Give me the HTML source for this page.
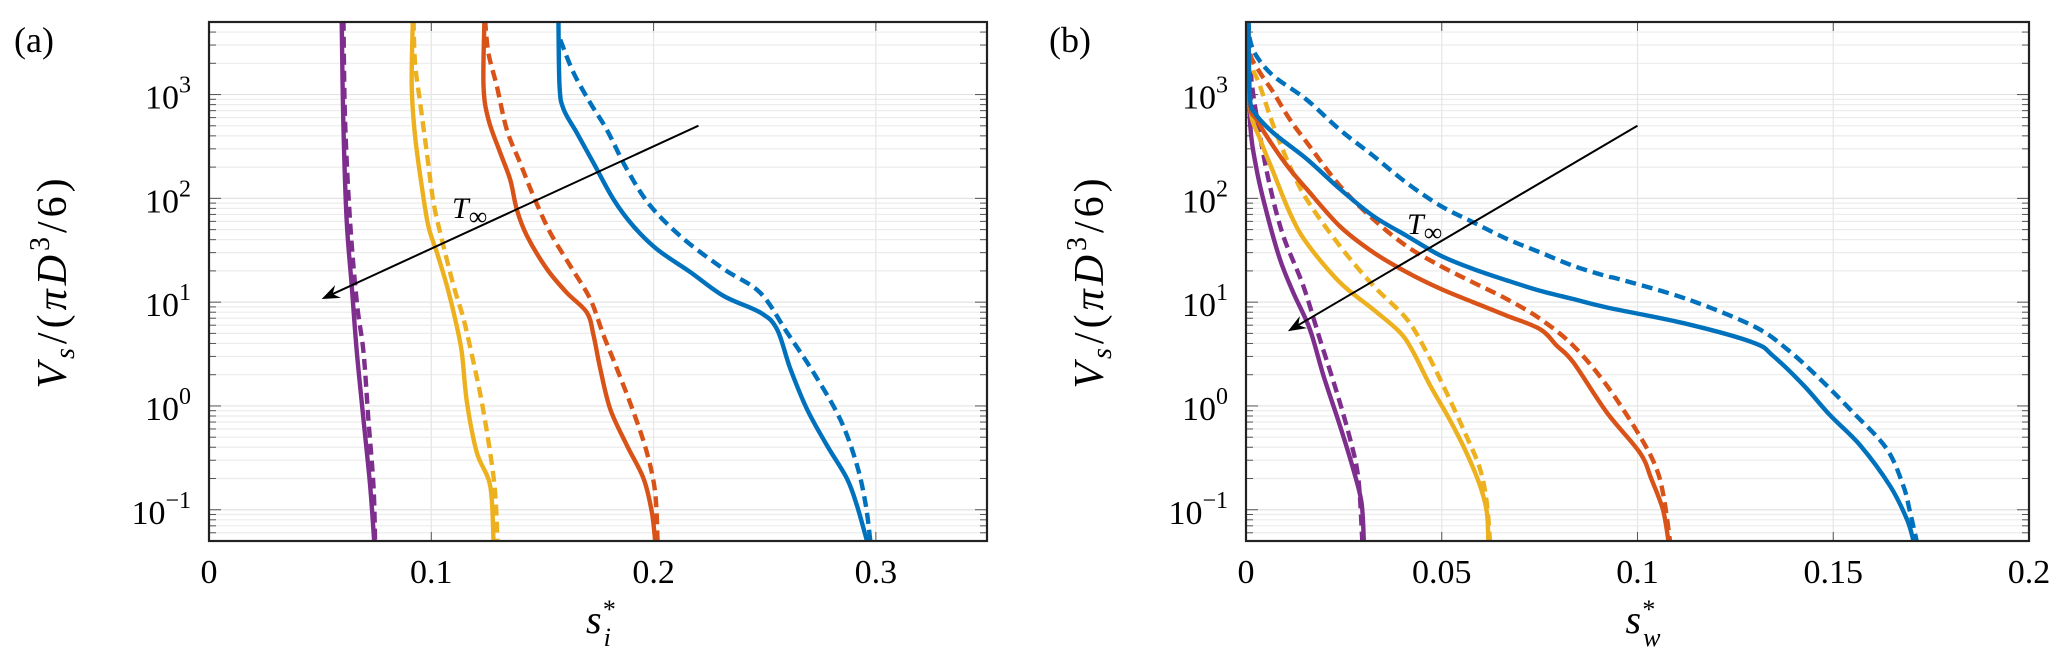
<!DOCTYPE html>
<html><head><meta charset="utf-8">
<style>
html,body{margin:0;padding:0;background:#fff;}
svg{display:block;}
text{font-family:"Liberation Serif","DejaVu Serif",serif;fill:#000;}
</style></head>
<body>
<svg id="fig" width="2067" height="668" viewBox="0 0 2067 668" xmlns="http://www.w3.org/2000/svg">
  <text x="14" y="52" font-size="36">(a)</text>
  <text x="1049" y="52" font-size="36">(b)</text>
  <g id="pa"></g>
  <g id="pb"></g>
</svg>
<script>
// ---- Panel (a) data: s_i* vs log10(Vs/(pi D^3/6)) ----
const aPurpleSolidS = [0.0597,0.0604,0.0619,0.0642,0.0665,0.0695,0.0725,0.0743];
const aPurpleSolidLogV = [3.72,2.76,1.8,1.16,0.52,-0.13,-0.77,-1.3];
const aPurpleDashS = [0.0605,0.0612,0.0634,0.0665,0.0695,0.0717,0.074,0.0747];
const aPurpleDashLogV = [3.72,2.76,1.8,1.0,0.52,-0.13,-0.77,-1.3];
const aYellowSolidS = [0.0917,0.0912,0.0927,0.0957,0.0987,0.1025,0.107,0.1107,0.1137,0.116,0.1205,0.1265,0.128];
const aYellowSolidLogV = [3.72,3.08,2.6,2.12,1.73,1.48,1.16,0.84,0.52,0.04,-0.45,-0.77,-1.3];
const aYellowDashS = [0.092,0.0927,0.095,0.098,0.101,0.1047,0.11,0.1145,0.119,0.1227,0.1265,0.1287,0.1298];
const aYellowDashLogV = [3.72,3.3,2.92,2.44,1.96,1.61,1.16,0.84,0.42,0.04,-0.45,-0.83,-1.3];
const aOrangeSolidS = [0.1239,0.1235,0.1257,0.131,0.1355,0.1385,0.143,0.152,0.161,0.17,0.173,0.176,0.1805,0.188,0.1955,0.1992,0.2007];
const aOrangeSolidLogV = [3.72,3.08,2.76,2.44,2.18,1.89,1.64,1.32,1.09,0.9,0.68,0.36,-0.03,-0.38,-0.7,-1.02,-1.3];
const aOrangeDashS = [0.1242,0.1257,0.1295,0.134,0.14,0.146,0.1535,0.1625,0.1715,0.1775,0.1835,0.191,0.197,0.2007,0.2018];
const aOrangeDashLogV = [3.72,3.4,3.08,2.66,2.34,2.02,1.67,1.35,1.03,0.68,0.36,-0.06,-0.45,-0.83,-1.3];
const aBlueSolidS = [0.1572,0.1577,0.1595,0.1655,0.173,0.182,0.191,0.2015,0.2165,0.2315,0.248,0.2555,0.2615,0.269,0.278,0.287,0.2915,0.296];
const aBlueSolidLogV = [3.72,3.08,2.86,2.63,2.34,1.99,1.73,1.51,1.29,1.06,0.9,0.74,0.36,-0.03,-0.38,-0.7,-0.96,-1.3];
const aBlueDashS = [0.158,0.164,0.1715,0.179,0.188,0.1985,0.2135,0.2315,0.248,0.26,0.272,0.284,0.2915,0.2955,0.2975];
const aBlueDashLogV = [3.53,3.21,2.92,2.66,2.28,1.93,1.61,1.32,1.09,0.71,0.32,-0.13,-0.57,-0.96,-1.3];
const aArrowS = [0.2202,0.0507];
const aArrowLogV = [2.70,1.03];
const aXTicks = [0,0.1,0.2,0.3];
const aXTickLabels = ["0","0.1","0.2","0.3"];

// ---- Panel (b) data: s_w* ----
const bPurpleSolidS = [0.0006,0.001,0.0027,0.0053,0.0087,0.0121,0.0163,0.0198,0.024,0.0274,0.0295,0.0301];
const bPurpleSolidLogV = [3.72,2.76,2.28,1.86,1.41,1.09,0.74,0.29,-0.19,-0.61,-0.93,-1.3];
const bPurpleDashS = [0.0006,0.0014,0.0036,0.0061,0.0095,0.0146,0.0189,0.0232,0.0266,0.0287,0.0297];
const bPurpleDashLogV = [3.72,3.14,2.6,2.12,1.64,1.16,0.64,0.13,-0.32,-0.7,-1.3];
const bYellowSolidS = [0.0006,0.001,0.0036,0.007,0.0112,0.0155,0.024,0.0325,0.0393,0.0427,0.047,0.052,0.0563,0.0598,0.0615,0.0619];
const bYellowSolidLogV = [3.72,2.89,2.57,2.25,1.86,1.57,1.19,0.93,0.71,0.52,0.2,-0.13,-0.45,-0.77,-1.02,-1.3];
const bYellowDashS = [0.0006,0.001,0.0036,0.007,0.0112,0.0155,0.024,0.0325,0.041,0.0461,0.0512,0.0563,0.0598,0.0615,0.0623];
const bYellowDashLogV = [3.72,3.34,3.08,2.7,2.31,1.99,1.54,1.16,0.84,0.52,0.13,-0.29,-0.61,-0.93,-1.3];
const bOrangeSolidS = [0.0006,0.001,0.0027,0.007,0.0112,0.0155,0.024,0.0325,0.041,0.0496,0.058,0.0666,0.0751,0.0794,0.0836,0.0921,0.1006,0.1035,0.1065,0.1079];
const bOrangeSolidLogV = [3.72,2.92,2.76,2.5,2.28,2.09,1.73,1.48,1.29,1.13,1.0,0.87,0.74,0.58,0.42,-0.06,-0.45,-0.7,-1.0,-1.3];
const bOrangeDashS = [0.0006,0.001,0.0036,0.007,0.0112,0.0155,0.024,0.0325,0.041,0.0496,0.058,0.0666,0.0751,0.0836,0.0921,0.1006,0.1049,0.1068,0.1083];
const bOrangeDashLogV = [3.72,3.4,3.21,3.02,2.76,2.54,2.12,1.8,1.54,1.35,1.19,1.03,0.84,0.58,0.2,-0.29,-0.61,-0.9,-1.3];
const bBlueSolidS = [0.0006,0.001,0.0023,0.007,0.0155,0.024,0.0325,0.041,0.0496,0.058,0.0666,0.0751,0.0836,0.0921,0.1126,0.1296,0.1347,0.1424,0.1492,0.1569,0.1645,0.1688,0.1705];
const bBlueSolidLogV = [3.72,2.98,2.82,2.63,2.38,2.09,1.83,1.64,1.45,1.32,1.21,1.11,1.03,0.95,0.79,0.61,0.48,0.2,-0.09,-0.38,-0.77,-1.09,-1.3];
const bBlueDashS = [0.0006,0.001,0.0027,0.007,0.0155,0.024,0.0325,0.041,0.0496,0.058,0.0666,0.0751,0.0836,0.0921,0.0955,0.1126,0.1296,0.1381,0.1466,0.155,0.1636,0.1679,0.1696,0.1713];
const bBlueDashLogV = [3.72,3.53,3.37,3.18,2.95,2.66,2.41,2.15,1.93,1.77,1.61,1.48,1.35,1.25,1.22,1.03,0.77,0.55,0.26,-0.06,-0.41,-0.77,-1.02,-1.3];
const bArrowS = [0.1,0.0107];
const bArrowLogV = [2.70,0.72];
const bXTicks = [0,0.05,0.1,0.15,0.2];
const bXTickLabels = ["0","0.05","0.1","0.15","0.2"];

const yDecades = [-1,0,1,2,3];
const yDecadeLabels = ["\u22121","0","1","2","3"];
const yMin = Math.log10(0.05), yMax = Math.log10(5000);

const NS = "http://www.w3.org/2000/svg";
const C = {purple:"#7E2F8E", yellow:"#EDB120", orange:"#D95319", blue:"#0072BD"};

function mk(tag, attrs, parent){
  const e = document.createElementNS(NS, tag);
  for (const k in attrs) e.setAttribute(k, attrs[k]);
  parent.appendChild(e);
  return e;
}
function smoothPath(pts){
  let d = "M" + pts[0][0].toFixed(2) + "," + pts[0][1].toFixed(2);
  for (let i = 0; i < pts.length - 1; i++){
    const p0 = pts[Math.max(0,i-1)], p1 = pts[i], p2 = pts[i+1], p3 = pts[Math.min(pts.length-1,i+2)];
    const c1x = p1[0] + (p2[0]-p0[0])/6, c1y = p1[1] + (p2[1]-p0[1])/6;
    const c2x = p2[0] - (p3[0]-p1[0])/6, c2y = p2[1] - (p3[1]-p1[1])/6;
    d += " C" + c1x.toFixed(2)+","+c1y.toFixed(2)+" "+c2x.toFixed(2)+","+c2y.toFixed(2)+" "+p2[0].toFixed(2)+","+p2[1].toFixed(2);
  }
  return d;
}

function drawPanel(g, L, R, T, B, xMax, xTicks, xTickLabels, series, arrowS, arrowLogV, tPos, xTitleSub, prefix){
  const xs = v => L + (v / xMax) * (R - L);
  const ys = lv => B - (lv - yMin) / (yMax - yMin) * (B - T);
  const clipId = prefix + "-clip";
  const defs = mk("defs", {}, g);
  const cp = mk("clipPath", {id: clipId}, defs);
  mk("rect", {x: L, y: T, width: R - L, height: B - T}, cp);

  const grid = mk("g", {}, g);
  
  
  for (let d = -2; d <= 3; d++){
    for (let m = 1; m <= 9; m++){
      const lv = d + Math.log10(m);
      if (lv < yMin || lv > yMax) continue;
      const y = ys(lv);
      mk("line", {x1:L, x2:R, y1:y, y2:y, stroke: m===1 ? "#e3e3e3" : "#ececec", "stroke-width": 1.2}, grid);
      const tl = m === 1 ? 12 : 7;
      mk("line", {x1:L, x2:L+tl, y1:y, y2:y, stroke:"#555", "stroke-width":1}, grid);
      mk("line", {x1:R-tl, x2:R, y1:y, y2:y, stroke:"#555", "stroke-width":1}, grid);
    }
  }
  xTicks.forEach(v => {
    const x = xs(v);
    mk("line", {x1:x, x2:x, y1:T, y2:B, stroke:"#e6e6e6", "stroke-width":1.2}, grid);
    mk("line", {x1:x, x2:x, y1:T, y2:T+9, stroke:"#555", "stroke-width":1}, grid);
    mk("line", {x1:x, x2:x, y1:B-9, y2:B, stroke:"#555", "stroke-width":1}, grid);
  });

  const lines = mk("g", {"clip-path": "url(#" + clipId + ")"}, g);
  series.forEach(s => {
    const pts = s.x.map((v, i) => [xs(v), ys(s.y[i])]);
    const p = mk("path", {d: smoothPath(pts), fill:"none", stroke:s.color, "stroke-width":4.4, "stroke-linejoin":"round", "stroke-dasharray": s.dash ? "11 6" : "none"}, lines);
    
    
  });

  const ax1 = xs(arrowS[0]), ay1 = ys(arrowLogV[0]), ax2 = xs(arrowS[1]), ay2 = ys(arrowLogV[1]);
  const ang = Math.atan2(ay2 - ay1, ax2 - ax1);
  const arrow = mk("g", {}, g);
  
  
  mk("line", {x1:ax1, y1:ay1, x2:ax2 - 6*Math.cos(ang), y2:ay2 - 6*Math.sin(ang), stroke:"#000", "stroke-width":2}, arrow);
  const hl = 18, hw = 7;
  const bx = ax2 - hl*Math.cos(ang), by = ay2 - hl*Math.sin(ang);
  const nx = -Math.sin(ang), ny = Math.cos(ang);
  const mx = ax2 - 12*Math.cos(ang), my = ay2 - 12*Math.sin(ang);
  mk("path", {d:`M${ax2},${ay2} L${bx+nx*hw},${by+ny*hw} L${mx},${my} L${bx-nx*hw},${by-ny*hw} Z`, fill:"#000"}, arrow);
  const tl = mk("text", {x: tPos[0], y: tPos[1], "font-size": 30, "font-style":"italic"}, g);
  
  
  tl.innerHTML = 'T<tspan font-style="normal" font-size="26" dy="7">\u221E</tspan>';

  const fr = mk("rect", {x:L, y:T, width:R-L, height:B-T, fill:"none", stroke:"#222", "stroke-width":2.2}, g);
  
  

  yDecades.forEach((d, i) => {
    const y = ys(d);
    const t = mk("text", {x: L - 18, y: y + 14, "font-size": 34, "text-anchor":"end"}, g);
    
    
    t.innerHTML = '10<tspan font-size="24" dy="-16">' + yDecadeLabels[i] + '</tspan>';
  });
  xTicks.forEach((v, i) => {
    const t = mk("text", {x: xs(v), y: B + 42, "font-size": 34, "text-anchor":"middle"}, g);
    
    
    t.textContent = xTickLabels[i];
  });
  const xt = mk("text", {x: (L+R)/2 - 12, y: B + 92, "font-size": 40, "font-style":"italic"}, g);
  
  
  xt.innerHTML = 's<tspan font-size="26" dy="-15">*</tspan><tspan font-size="26" dx="-11" dy="28">' + xTitleSub + '</tspan>';
  const yx = L - 143, yc = (T + B) / 2;
  const yt = mk("text", {x: yx, y: yc, "font-size": 42, "letter-spacing": 4, "text-anchor":"middle", transform:`rotate(-90 ${yx} ${yc})`}, g);
  
  
  yt.innerHTML = '<tspan font-style="italic">V</tspan><tspan font-style="italic" font-size="28" dy="8">s</tspan><tspan dy="-8">/(</tspan><tspan font-style="italic">\u03C0D</tspan><tspan font-size="28" dy="-17">3</tspan><tspan dy="17">/6)</tspan>';
}

const seriesA = [
  {name:"a-purple-solid", color:C.purple, dash:false, x:aPurpleSolidS, y:aPurpleSolidLogV},
  {name:"a-purple-dashed", color:C.purple, dash:true, x:aPurpleDashS, y:aPurpleDashLogV},
  {name:"a-yellow-solid", color:C.yellow, dash:false, x:aYellowSolidS, y:aYellowSolidLogV},
  {name:"a-yellow-dashed", color:C.yellow, dash:true, x:aYellowDashS, y:aYellowDashLogV},
  {name:"a-orange-solid", color:C.orange, dash:false, x:aOrangeSolidS, y:aOrangeSolidLogV},
  {name:"a-orange-dashed", color:C.orange, dash:true, x:aOrangeDashS, y:aOrangeDashLogV},
  {name:"a-blue-solid", color:C.blue, dash:false, x:aBlueSolidS, y:aBlueSolidLogV},
  {name:"a-blue-dashed", color:C.blue, dash:true, x:aBlueDashS, y:aBlueDashLogV}
];
const seriesB = [
  {name:"b-purple-solid", color:C.purple, dash:false, x:bPurpleSolidS, y:bPurpleSolidLogV},
  {name:"b-purple-dashed", color:C.purple, dash:true, x:bPurpleDashS, y:bPurpleDashLogV},
  {name:"b-yellow-solid", color:C.yellow, dash:false, x:bYellowSolidS, y:bYellowSolidLogV},
  {name:"b-yellow-dashed", color:C.yellow, dash:true, x:bYellowDashS, y:bYellowDashLogV},
  {name:"b-orange-solid", color:C.orange, dash:false, x:bOrangeSolidS, y:bOrangeSolidLogV},
  {name:"b-orange-dashed", color:C.orange, dash:true, x:bOrangeDashS, y:bOrangeDashLogV},
  {name:"b-blue-solid", color:C.blue, dash:false, x:bBlueSolidS, y:bBlueSolidLogV},
  {name:"b-blue-dashed", color:C.blue, dash:true, x:bBlueDashS, y:bBlueDashLogV}
];

drawPanel(document.getElementById("pa"), 209, 987, 22, 541, 0.35, aXTicks, aXTickLabels, seriesA, aArrowS, aArrowLogV, [452, 218], "i", "panel-a");
drawPanel(document.getElementById("pb"), 1246, 2029, 22, 541, 0.2, bXTicks, bXTickLabels, seriesB, bArrowS, bArrowLogV, [1407, 234], "w", "panel-b");
</script>
</body></html>
